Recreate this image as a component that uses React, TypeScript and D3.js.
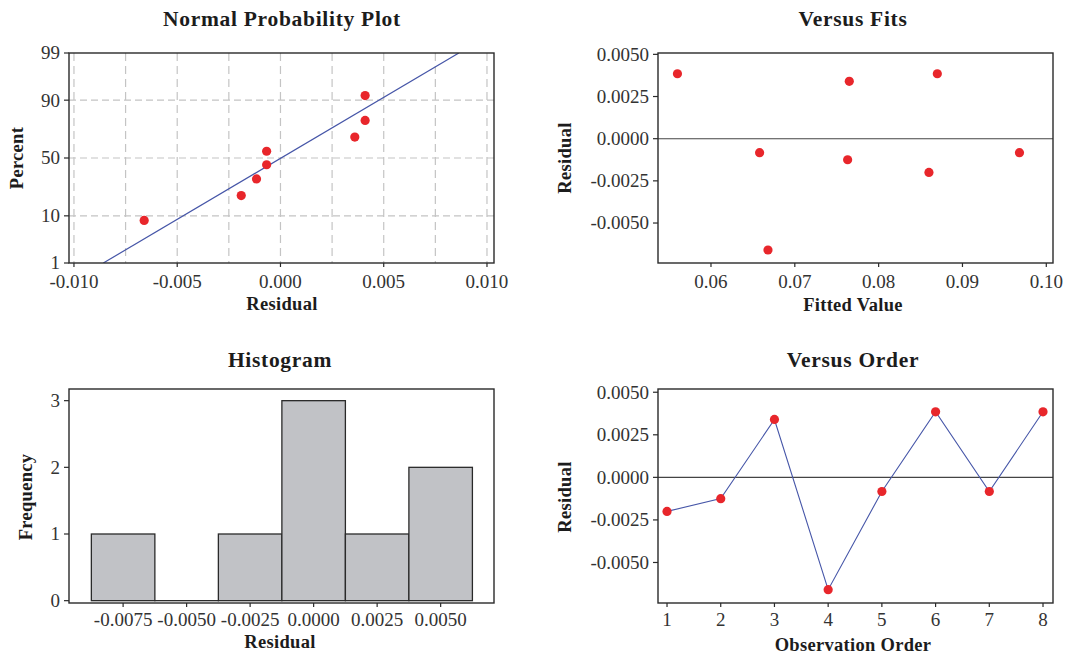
import React from "react";
import * as d3 from "d3";

// Residuals in observation order, and the fitted values they belong to
const observationOrder = [1, 2, 3, 4, 5, 6, 7, 8];
const residuals = [-0.002, -0.00125, 0.0034, -0.0066, -0.00083, 0.00385, -0.00083, 0.00385];
const fittedValues = [0.086, 0.0763, 0.0765, 0.0668, 0.0658, 0.056, 0.0968, 0.087];

// Sorted residuals as placed on the normal probability scale
const nppResiduals = [-0.0066, -0.0019, -0.00116, -0.00067, -0.00067, 0.0036, 0.0041, 0.0041];
const fitMean = 0.00003;
const fitSd = 0.0037;

// Histogram bins (centre, count)
const binCenters = [-0.0075, -0.005, -0.0025, 0, 0.0025, 0.005];
const binCounts = [1, 0, 1, 3, 1, 2];
const binWidth = 0.0025;

// Tick values
const nppXTicks = [-0.01, -0.005, 0, 0.005, 0.01];
const nppXGrid = [-0.01, -0.0075, -0.005, -0.0025, 0, 0.0025, 0.005, 0.0075, 0.01];
const percentTicks = [1, 10, 50, 90, 99];
const percentGrid = [10, 50, 90];
const residualTicks = [0.005, 0.0025, 0, -0.0025, -0.005];
const fitTicks = [0.06, 0.07, 0.08, 0.09, 0.1];
const histXTicks = [-0.0075, -0.005, -0.0025, 0, 0.0025, 0.005];
const freqTicks = [0, 1, 2, 3];

const SERIF = '"Liberation Serif", "Times New Roman", serif';
const INK = "#2a2a2a";
const RED = "#e8262b";
const BLUE = "#4656a8";

// Inverse standard normal CDF (Acklam's rational approximation)
function normInv(p: number): number {
  const a = [-39.69683028665376, 220.9460984245205, -275.9285104469687, 138.357751867269, -30.66479806614716, 2.506628277459239];
  const b = [-54.47609879822406, 161.5858368580409, -155.6989798598866, 66.80131188771972, -13.28068155288572];
  const c = [-0.007784894002430293, -0.3223964580411365, -2.400758277161838, -2.549732539343734, 4.374664141464968, 2.938163982698783];
  const d = [0.007784695709041462, 0.3224671290700398, 2.445134137142996, 3.754408661907416];
  const plow = 0.02425;
  if (p < plow) {
    const q = Math.sqrt(-2 * Math.log(p));
    return (((((c[0] * q + c[1]) * q + c[2]) * q + c[3]) * q + c[4]) * q + c[5]) / ((((d[0] * q + d[1]) * q + d[2]) * q + d[3]) * q + 1);
  }
  if (p > 1 - plow) {
    const q = Math.sqrt(-2 * Math.log(1 - p));
    return -(((((c[0] * q + c[1]) * q + c[2]) * q + c[3]) * q + c[4]) * q + c[5]) / ((((d[0] * q + d[1]) * q + d[2]) * q + d[3]) * q + 1);
  }
  const q = p - 0.5;
  const r = q * q;
  return ((((((a[0] * r + a[1]) * r + a[2]) * r + a[3]) * r + a[4]) * r + a[5]) * q) / (((((b[0] * r + b[1]) * r + b[2]) * r + b[3]) * r + b[4]) * r + 1);
}

type Box = { x0: number; x1: number; y0: number; y1: number };

function Title({ text, x, y }: { text: string; x: number; y: number }) {
  return (
    <text x={x} y={y} textAnchor="middle" fontFamily={SERIF} fontWeight="bold" fontSize={21.5} fill="#1c1c1c" letterSpacing={0.7}>
      {text}
    </text>
  );
}

function XLabel({ text, x, y }: { text: string; x: number; y: number }) {
  return (
    <text x={x} y={y} textAnchor="middle" fontFamily={SERIF} fontWeight="bold" fontSize={18.5} fill="#1c1c1c" letterSpacing={0.3}>
      {text}
    </text>
  );
}

function YLabel({ text, x, y }: { text: string; x: number; y: number }) {
  return (
    <text transform={`translate(${x},${y}) rotate(-90)`} textAnchor="middle" dominantBaseline="central" fontFamily={SERIF} fontWeight="bold" fontSize={18.5} fill="#1c1c1c" letterSpacing={0.3}>
      {text}
    </text>
  );
}

function YTicks({ box, values, scale, fmt }: { box: Box; values: number[]; scale: (v: number) => number; fmt: (v: number) => string }) {
  return (
    <g>
      {values.map((v) => (
        <g key={`y${v}`}>
          <line x1={box.x0 - 5} x2={box.x0} y1={scale(v)} y2={scale(v)} stroke={INK} strokeWidth={1.2} />
          <text x={box.x0 - 9} y={scale(v)} dy="0.34em" textAnchor="end" fontFamily={SERIF} fontSize={19} fill="#333">
            {fmt(v)}
          </text>
        </g>
      ))}
    </g>
  );
}

function XTicks({ box, values, scale, fmt, labelY }: { box: Box; values: number[]; scale: (v: number) => number; fmt: (v: number) => string; labelY: number }) {
  return (
    <g>
      {values.map((v) => (
        <g key={`x${v}`}>
          <line x1={scale(v)} x2={scale(v)} y1={box.y1} y2={box.y1 + 4} stroke={INK} strokeWidth={1.2} />
          <text x={scale(v)} y={labelY} dy="0.34em" textAnchor="middle" fontFamily={SERIF} fontSize={19} fill="#333">
            {fmt(v)}
          </text>
        </g>
      ))}
    </g>
  );
}

function Frame({ box }: { box: Box }) {
  return <rect x={box.x0} y={box.y0} width={box.x1 - box.x0} height={box.y1 - box.y0} fill="none" stroke={INK} strokeWidth={1.4} />;
}

function Dot({ cx, cy }: { cx: number; cy: number }) {
  return <circle cx={cx} cy={cy} r={4.6} fill={RED} />;
}

export default function App() {
  // ---------- Normal probability plot ----------
  const b1: Box = { x0: 69, x1: 494, y0: 53, y1: 263 };
  const x1 = d3.scaleLinear().domain([-0.01024, 0.01034]).range([b1.x0, b1.x1]);
  const zMax = normInv(0.99);
  const z1 = d3.scaleLinear().domain([-zMax, zMax]).range([b1.y1, b1.y0]);
  const yPct = (p: number) => z1(normInv(p / 100));
  const n = nppResiduals.length;
  const nppPoints = nppResiduals.map((r, i) => ({ x: x1(r), y: yPct(((i + 1 - 0.3) / (n + 0.4)) * 100) }));
  const fitLine = d3.line<number>()
    .x((z) => x1(fitMean + fitSd * z))
    .y((z) => z1(z))([-zMax, zMax]);

  // ---------- Versus fits ----------
  const b2: Box = { x0: 658, x1: 1053, y0: 53, y1: 263 };
  const x2 = d3.scaleLinear().domain([0.05368, 0.1008]).range([b2.x0, b2.x1]);
  const y2 = d3.scaleLinear().domain([-0.00737, 0.00508]).range([b2.y1, b2.y0]);

  // ---------- Histogram ----------
  const b3: Box = { x0: 69, x1: 494, y0: 389, y1: 603 };
  const x3 = d3.scaleLinear().domain([-0.00963, 0.0071]).range([b3.x0, b3.x1]);
  const y3 = d3.scaleLinear().domain([-0.035, 3.175]).range([b3.y1, b3.y0]);

  // ---------- Versus order ----------
  const b4: Box = { x0: 658, x1: 1053, y0: 389, y1: 603 };
  const x4 = d3.scaleLinear().domain([0.832, 8.186]).range([b4.x0, b4.x1]);
  const y4 = d3.scaleLinear().domain([-0.00738, 0.00519]).range([b4.y1, b4.y0]);
  const orderLine = d3.line<number>()
    .x((_, i) => x4(observationOrder[i]))
    .y((r) => y4(r))(residuals);

  const resFmt = (v: number) => v.toFixed(4);

  return (
    <svg width={1075} height={656} style={{ position: "absolute", left: 0, top: 0, background: "#fff" }}>
      <rect width={1075} height={656} fill="#fff" />

      {/* Normal probability plot */}
      <Title text="Normal Probability Plot" x={282} y={26} />
      <defs>
        <clipPath id="clip-npp">
          <rect x={b1.x0} y={b1.y0} width={b1.x1 - b1.x0} height={b1.y1 - b1.y0} />
        </clipPath>
      </defs>
      {nppXGrid.map((v) => (
        <line key={`g${v}`} x1={x1(v)} x2={x1(v)} y1={b1.y0} y2={b1.y1} stroke="#c4c4c4" strokeWidth={1.2} strokeDasharray="8 5" />
      ))}
      {percentGrid.map((p) => (
        <line key={`h${p}`} x1={b1.x0} x2={b1.x1} y1={yPct(p)} y2={yPct(p)} stroke="#c4c4c4" strokeWidth={1.2} strokeDasharray="7 4" />
      ))}
      <path d={fitLine ?? ""} fill="none" stroke={BLUE} strokeWidth={1.2} clipPath="url(#clip-npp)" />
      {nppPoints.map((p, i) => (
        <Dot key={`n${i}`} cx={p.x} cy={p.y} />
      ))}
      <Frame box={b1} />
      <YTicks box={b1} values={percentTicks} scale={yPct} fmt={(v) => String(v)} />
      <XTicks box={b1} values={nppXTicks} scale={x1} fmt={(v) => v.toFixed(3)} labelY={282} />
      <XLabel text="Residual" x={282} y={310} />
      <YLabel text="Percent" x={17} y={158} />

      {/* Versus fits */}
      <Title text="Versus Fits" x={853} y={26} />
      <line x1={b2.x0} x2={b2.x1} y1={y2(0)} y2={y2(0)} stroke="#444" strokeWidth={1.1} />
      {residuals.map((r, i) => (
        <Dot key={`f${i}`} cx={x2(fittedValues[i])} cy={y2(r)} />
      ))}
      <Frame box={b2} />
      <YTicks box={b2} values={residualTicks} scale={y2} fmt={resFmt} />
      <XTicks box={b2} values={fitTicks} scale={x2} fmt={(v) => v.toFixed(2)} labelY={282} />
      <XLabel text="Fitted Value" x={853} y={311} />
      <YLabel text="Residual" x={565} y={158} />

      {/* Histogram */}
      <Title text="Histogram" x={280} y={367} />
      {binCenters.map((c, i) => (
        <rect
          key={`b${i}`}
          x={x3(c - binWidth / 2)}
          y={y3(binCounts[i])}
          width={x3(c + binWidth / 2) - x3(c - binWidth / 2)}
          height={Math.max(0.001, y3(0) - y3(binCounts[i]))}
          fill="#c1c2c6"
          stroke={INK}
          strokeWidth={1.3}
        />
      ))}
      <Frame box={b3} />
      <YTicks box={b3} values={freqTicks} scale={y3} fmt={(v) => String(v)} />
      <XTicks box={b3} values={histXTicks} scale={x3} fmt={resFmt} labelY={620} />
      <XLabel text="Residual" x={280} y={648} />
      <YLabel text="Frequency" x={26} y={497} />

      {/* Versus order */}
      <Title text="Versus Order" x={853} y={367} />
      <line x1={b4.x0} x2={b4.x1} y1={y4(0)} y2={y4(0)} stroke="#444" strokeWidth={1.1} />
      <path d={orderLine ?? ""} fill="none" stroke={BLUE} strokeWidth={1.1} />
      {residuals.map((r, i) => (
        <Dot key={`o${i}`} cx={x4(observationOrder[i])} cy={y4(r)} />
      ))}
      <Frame box={b4} />
      <YTicks box={b4} values={residualTicks} scale={y4} fmt={resFmt} />
      <XTicks box={b4} values={observationOrder} scale={x4} fmt={(v) => String(v)} labelY={620} />
      <XLabel text="Observation Order" x={853} y={651} />
      <YLabel text="Residual" x={565} y={497} />
    </svg>
  );
}
